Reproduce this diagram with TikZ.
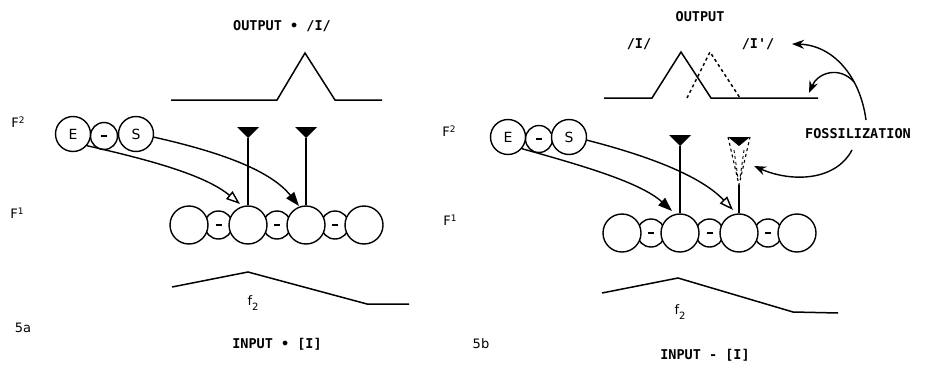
\documentclass[tikz,border=0pt]{standalone}
\usepackage{fontspec}
\setmainfont{DejaVu Sans}
\newfontfamily\monof{DejaVu Sans Mono}
\usetikzlibrary{arrows.meta}
\begin{document}
\begin{tikzpicture}[x=1pt,y=-1pt,line width=1.4pt,
  capt/.style={font=\monof\bfseries\fontsize{13.5}{14}\selectfont,inner sep=0pt},
  lbl/.style={font=\fontsize{13}{13}\selectfont,inner sep=0pt},
  bigc/.style={circle,draw,fill=white,minimum size=38pt,inner sep=0pt},
  midc/.style={circle,draw,fill=white,minimum size=28pt,inner sep=0pt},
  esc/.style={circle,draw,fill=white,minimum size=35pt,inner sep=0pt,font=\fontsize{14}{14}\selectfont},
  esm/.style={circle,draw,fill=white,minimum size=27pt,inner sep=0pt},
  sig/.style={line width=1.5pt,line join=miter},
  fillarr/.style={-{Triangle[length=14pt,width=10pt]}},
  openarr/.style={-{Triangle[open,length=14pt,width=10pt,fill=white]}},
  fossarr/.style={-{Stealth[length=12pt,width=9pt]}},
]
\useasboundingbox (0,0) rectangle (926,364);
\newcommand{\dashbar}{\rule{6pt}{2.6pt}}
% ---------------- panel a ----------------
\node[capt] (aout) at (282,26) {OUTPUT • /I/};
\draw[sig] (171,100) -- (277,100) -- (305,53) -- (335,100) -- (382,100);
\node[lbl] (aF2) at (18,122) {F\raisebox{4pt}{\fontsize{9}{9}\selectfont 2}};
\node[lbl] (aF1) at (17,213) {F\raisebox{4pt}{\fontsize{9}{9}\selectfont 1}};
% E - S
\node[esm] (aM) at (104,136) {\dashbar};
\node[esc] (aE) at (73,134) {E};
\node[esc] (aS) at (136,134) {S};
% F1 row
\node[midc] (am1) at (218.5,225) {\dashbar};
\node[midc] (am2) at (277,225) {\dashbar};
\node[midc] (am3) at (335,225) {\dashbar};
\node[bigc] (a1) at (189,225) {};
\node[bigc] (a2) at (248,225) {};
\node[bigc] (a3) at (306,225) {};
\node[bigc] (a4) at (364,225) {};
% markers
\coordinate (aK1) at (248,138);
\coordinate (aK2) at (306,138);
\fill (237,127) -- (259,127) -- (aK1) -- cycle;
\fill (295,127) -- (317,127) -- (aK2) -- cycle;
\draw (aK1) -- (a2.north);
\draw (aK2) -- (a3.north);
% connectors
\coordinate (aT1) at (240,204);
\coordinate (aT2) at (299,206);
\draw[openarr] (aE.-40) .. controls (150,160) and (205,175) .. (aT1);
\draw[fillarr] (aS.-10) .. controls (220,152) and (270,170) .. (aT2);
% input
\draw[sig] (172,287) -- (248,272) -- (367,304) -- (409,304);
\node[lbl] (af2) at (253,303) {f\raisebox{-5pt}{\fontsize{10}{10}\selectfont 2}};
\node[lbl] (a5) at (23,328) {5a};
\node[capt] (ain) at (277,344) {INPUT • [I]};
% ---------------- panel b ----------------
\node[capt] (bout) at (700,17) {OUTPUT};
\node[capt] (bI) at (639,44) {/I/};
\node[capt] (bIp) at (758,44) {/I'/};
\draw[sig] (604,98) -- (652,98) -- (681,52) -- (711,98) -- (818,98);
\draw[sig,dashed] (687,98) -- (710,52) -- (740,98);
\node[lbl] (bF2) at (449,131) {F\raisebox{4pt}{\fontsize{9}{9}\selectfont 2}};
\node[lbl] (bF1) at (450,220) {F\raisebox{4pt}{\fontsize{9}{9}\selectfont 1}};
\node[esm] (bM) at (539,139) {\dashbar};
\node[esc] (bE) at (508,137) {E};
\node[esc] (bS) at (569,137) {S};
\node[midc] (bm1) at (651,233) {\dashbar};
\node[midc] (bm2) at (709.5,233) {\dashbar};
\node[midc] (bm3) at (768,233) {\dashbar};
\node[bigc] (b1) at (622,233) {};
\node[bigc] (b2) at (680,233) {};
\node[bigc] (b3) at (739,233) {};
\node[bigc] (b4) at (797,233) {};
\coordinate (bK1) at (680,146);
\coordinate (bK2) at (739,185);
\fill (669,135) -- (691,135) -- (bK1) -- cycle;
\draw (bK1) -- (b2.north);
\fill (728,137) -- (750,137) -- (739,146) -- cycle;
\draw[dashed,line width=1.1pt] (728,137) -- (bK2) -- (750,137);
\draw[dash pattern=on 3pt off 3pt,line width=0.9pt] (734,150) -- (738,178) (744,150) -- (740,178);
\draw (bK2) -- (b3.north);
\coordinate (bT1) at (672,211);
\coordinate (bT2) at (733,210);
\draw[fillarr] (bE.-40) .. controls (580,165) and (640,182) .. (bT1);
\draw[openarr] (bS.-10) .. controls (645,155) and (700,175) .. (bT2);
% fossilization
\node[capt] (foss) at (858,134) {FOSSILIZATION};
\coordinate (fS1) at (866,120);
\coordinate (fT1) at (792,44);
\coordinate (fS2) at (854,82);
\coordinate (fT2) at (809,93);
\coordinate (fS3) at (852,150);
\coordinate (fT3) at (754,166);
\draw[fossarr] (fS1) .. controls (860,75) and (832,45) .. (fT1);
\draw[fossarr] (fS2) .. controls (840,66) and (818,72) .. (fT2);
\draw[fossarr] (fS3) .. controls (835,182) and (790,182) .. (fT3);
% input b
\draw[sig] (602,293) -- (678,278) -- (793,312) -- (838,313);
\node[lbl] (bf2) at (680,312) {f\raisebox{-5pt}{\fontsize{10}{10}\selectfont 2}};
\node[lbl] (b5) at (481,344) {5b};
\node[capt] (bin) at (705,355) {INPUT - [I]};
\end{tikzpicture}
\end{document}
